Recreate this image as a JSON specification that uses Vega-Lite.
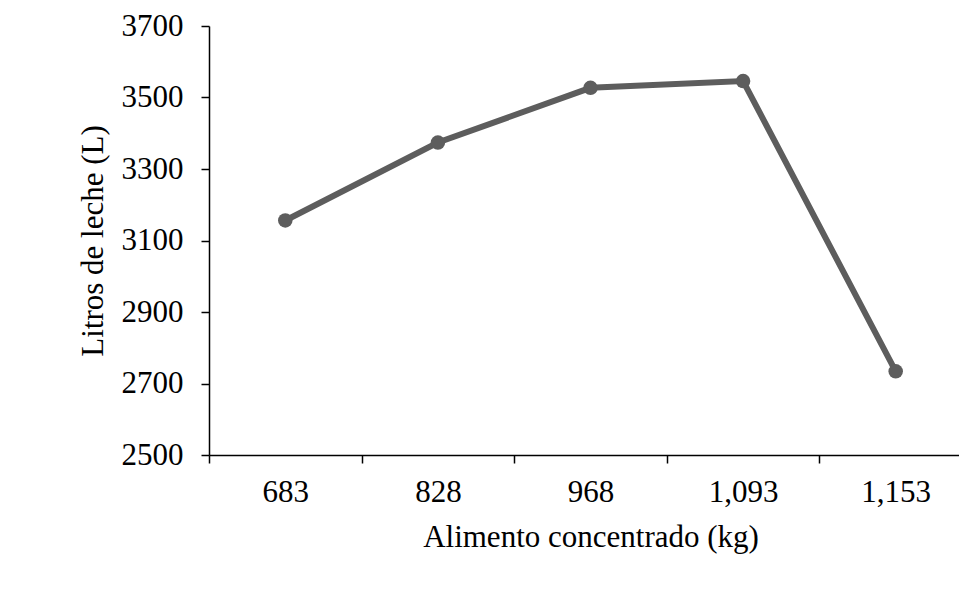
{
  "$schema": "https://vega.github.io/schema/vega-lite/v6.json",
  "autosize": "none",
  "padding": {"left": 209, "top": 26, "right": 0, "bottom": 147},
  "width": 763,
  "height": 429,
  "background": "white",
  "config": {
    "view": {"stroke": null},
    "font": "Liberation Serif"
  },
  "data": {
    "values": [
      {"alimento": "683", "litros": 3156},
      {"alimento": "828", "litros": 3374},
      {"alimento": "968", "litros": 3527},
      {"alimento": "1,093", "litros": 3546},
      {"alimento": "1,153", "litros": 2734}
    ]
  },
  "mark": {"type": "line", "color": "#5d5d5d", "strokeWidth": 6, "point": {"filled": true, "size": 210, "color": "#5d5d5d", "opacity": 1}},
  "encoding": {
    "x": {
      "field": "alimento",
      "type": "ordinal",
      "sort": null,
      "scale": {"paddingInner": 0, "paddingOuter": 0},
      "axis": {
        "title": "Alimento concentrado (kg)",
        "labelAngle": 0,
        "tickBand": "extent",
        "tickSize": 8,
        "tickColor": "black",
        "tickWidth": 1.5,
        "domainColor": "black",
        "domainWidth": 1.5,
        "labelFont": "Liberation Serif",
        "labelFontSize": 31,
        "labelColor": "black",
        "labelPadding": 14,
        "titleFont": "Liberation Serif",
        "titleFontSize": 31,
        "titleFontWeight": "normal",
        "titleColor": "black",
        "titlePadding": 15,
        "grid": false
      }
    },
    "y": {
      "field": "litros",
      "type": "quantitative",
      "scale": {"domain": [2500, 3700], "nice": false, "zero": false},
      "axis": {
        "title": "Litros de leche (L)",
        "values": [2500, 2700, 2900, 3100, 3300, 3500, 3700],
        "format": "d",
        "tickSize": 8,
        "tickColor": "black",
        "tickWidth": 1.5,
        "domainColor": "black",
        "domainWidth": 1.5,
        "labelFont": "Liberation Serif",
        "labelFontSize": 31,
        "labelColor": "black",
        "labelPadding": 18,
        "titleFont": "Liberation Serif",
        "titleFontSize": 31,
        "titleFontWeight": "normal",
        "titleColor": "black",
        "titlePadding": 12,
        "grid": false
      }
    }
  }
}
